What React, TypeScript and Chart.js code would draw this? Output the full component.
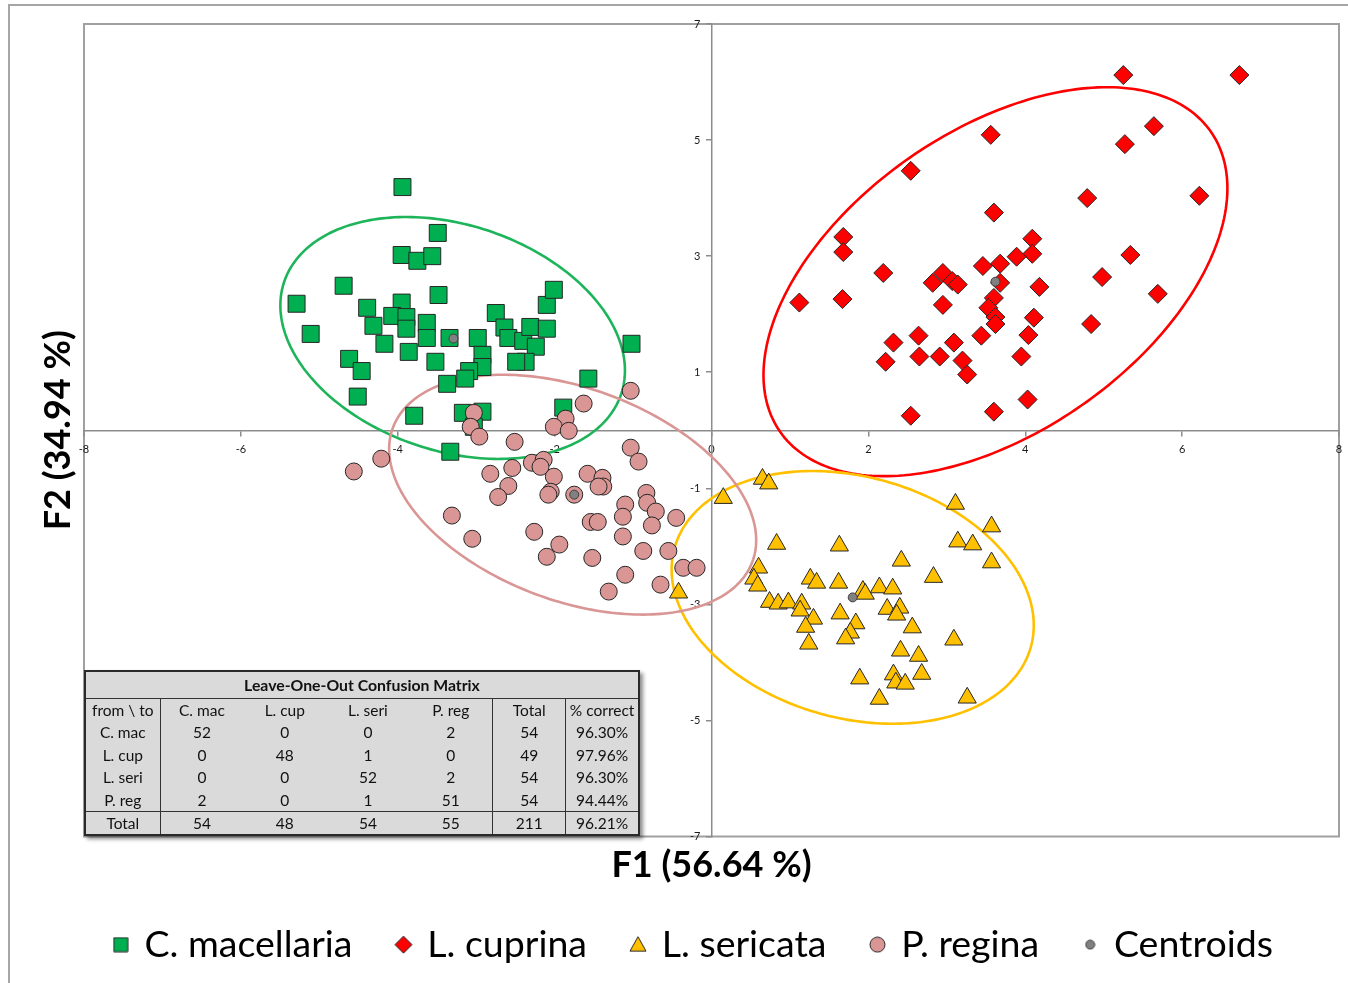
import React, { useEffect, useRef } from 'react';
import { Chart, registerables } from 'chart.js';

Chart.register(...registerables);

// ---------- data ----------
const seriesNames = ['C. macellaria', 'L. cuprina', 'L. sericata', 'P. regina', 'Centroids'];

const cMacellaria: [number, number][] = [
  [-3.94, 4.19], [-3.49, 3.40], [-3.95, 3.02], [-3.75, 2.92], [-3.56, 3.00], [-4.69, 2.49],
  [-3.48, 2.33], [-5.29, 2.18], [-4.39, 2.11], [-3.95, 2.20], [-4.07, 1.97], [-3.89, 1.95],
  [-3.89, 1.75], [-3.63, 1.85], [-3.63, 1.59], [-4.31, 1.80], [-5.11, 1.66], [-4.17, 1.49],
  [-3.86, 1.35], [-4.62, 1.23], [-4.46, 1.02], [-4.51, 0.58], [-3.34, 1.59], [-2.98, 1.59],
  [-2.75, 2.02], [-2.64, 1.77], [-2.59, 1.59], [-2.40, 1.54], [-2.31, 1.78], [-2.10, 1.75],
  [-2.24, 1.44], [-2.10, 2.16], [-2.01, 2.42], [-2.37, 1.18], [-2.49, 1.18], [-2.92, 1.30],
  [-2.92, 1.09], [-3.09, 1.02], [-3.14, 0.89], [-3.37, 0.80], [-3.52, 1.18], [-1.02, 1.49],
  [-1.57, 0.89], [-3.79, 0.25], [-3.17, 0.30], [-2.92, 0.32], [-1.89, 0.39], [-3.33, -0.37],
  [-3.03, 0.06],
];

const lCuprina: [number, number][] = [
  [5.25, 6.12], [6.73, 6.12], [5.64, 5.24], [5.27, 4.93], [3.56, 5.09], [2.54, 4.47],
  [4.79, 4.00], [6.22, 4.04], [3.60, 3.75], [1.68, 3.33], [1.68, 3.07], [4.09, 3.30],
  [4.09, 3.04], [3.89, 2.99], [3.68, 2.87], [3.46, 2.83], [5.34, 3.02], [2.19, 2.71],
  [2.95, 2.71], [2.82, 2.54], [3.07, 2.57], [3.14, 2.51], [3.68, 2.54], [4.98, 2.64],
  [4.18, 2.47], [1.12, 2.20], [1.67, 2.26], [2.95, 2.16], [3.60, 2.28], [3.53, 2.11],
  [3.62, 1.95], [3.62, 1.83], [4.11, 1.94], [5.69, 2.35], [4.84, 1.83], [4.04, 1.64],
  [2.64, 1.63], [2.32, 1.51], [3.09, 1.51], [3.44, 1.63], [2.22, 1.18], [2.65, 1.27],
  [2.91, 1.27], [3.20, 1.20], [3.26, 0.96], [3.95, 1.27], [4.03, 0.53], [3.60, 0.32],
  [2.54, 0.25],
];

const lSericata: [number, number][] = [
  [0.65, -0.84], [0.73, -0.92], [0.15, -1.17], [3.11, -1.27], [3.57, -1.66], [3.14, -1.92],
  [3.33, -1.97], [3.57, -2.28], [0.83, -1.96], [1.63, -1.99], [2.42, -2.25], [2.83, -2.53],
  [0.60, -2.37], [0.54, -2.56], [0.59, -2.68], [1.26, -2.56], [1.34, -2.63], [1.62, -2.63],
  [-0.42, -2.80], [1.93, -2.77], [1.96, -2.82], [2.14, -2.71], [2.31, -2.73], [0.74, -2.96],
  [0.85, -2.99], [0.98, -2.97], [1.15, -2.99], [1.13, -3.11], [1.30, -3.25], [1.20, -3.39],
  [1.64, -3.16], [1.84, -3.33], [1.77, -3.49], [1.71, -3.59], [1.24, -3.68], [2.24, -3.08],
  [2.40, -3.06], [2.36, -3.18], [2.56, -3.40], [2.41, -3.80], [2.64, -3.89], [2.68, -4.20],
  [3.09, -3.61], [1.89, -4.28], [2.32, -4.21], [2.35, -4.35], [2.47, -4.37], [2.14, -4.63],
  [3.26, -4.61],
];

const pRegina: [number, number][] = [
  [-1.03, 0.68], [-1.63, 0.46], [-3.03, 0.30], [-3.07, 0.06], [-2.96, -0.11], [-1.86, 0.20],
  [-2.01, 0.06], [-1.82, -0.01], [-2.51, -0.20], [-4.21, -0.49], [-4.56, -0.71], [-2.82, -0.75],
  [-2.54, -0.65], [-2.59, -0.96], [-2.72, -1.15], [-2.29, -0.56], [-2.14, -0.51], [-2.18, -0.63],
  [-2.01, -0.80], [-2.05, -1.06], [-2.08, -1.11], [-1.75, -1.11], [-1.58, -0.75], [-1.39, -0.82],
  [-1.38, -0.97], [-1.44, -0.97], [-1.03, -0.30], [-0.93, -0.54], [-0.83, -1.08], [-0.82, -1.25],
  [-0.71, -1.40], [-1.10, -1.28], [-1.13, -1.49], [-1.54, -1.58], [-1.45, -1.58], [-0.76, -1.64],
  [-0.45, -1.51], [-1.13, -1.83], [-0.87, -2.08], [-0.55, -2.08], [-2.26, -1.75], [-1.94, -1.97],
  [-2.10, -2.18], [-1.52, -2.20], [-1.10, -2.49], [-1.31, -2.78], [-0.65, -2.66], [-0.36, -2.37],
  [-0.19, -2.37], [-3.31, -1.47], [-3.05, -1.87],
];

const centroids: [number, number][] = [
  [-3.29, 1.58], [3.62, 2.56], [1.80, -2.88], [-1.75, -1.11],
];

// confidence ellipses: centre, first conjugate semi-axis, second conjugate semi-axis (data units)
const ellipseCMac = [[-3.30, 1.59], [2.15, -0.96], [-0.45, -1.85]];
const ellipseLCup = [[3.62, 2.56], [2.745, 2.587], [-1.10, 2.13]];
const ellipseLSer = [[1.80, -2.88], [2.27, -0.86], [-0.42, -2.00]];
const ellipsePReg = [[-1.77, -1.11], [2.29, -1.16], [-0.48, -1.71]];

const xTicks = [-8, -6, -4, -2, 0, 2, 4, 6, 8];
const yTicks = [-7, -5, -3, -1, 1, 3, 5, 7];
const xTitle = 'F1 (56.64 %)';
const yTitle = 'F2 (34.94 %)';

// confusion matrix
const tableTitle = 'Leave-One-Out Confusion Matrix';
const tableHeader = ['from \\ to', 'C. mac', 'L. cup', 'L. seri', 'P. reg', 'Total', '% correct'];
const tableRowLabels = ['C. mac', 'L. cup', 'L. seri', 'P. reg'];
const tableCounts = [
  [52, 0, 0, 2],
  [0, 48, 1, 0],
  [0, 0, 52, 2],
  [2, 0, 1, 51],
];
const tableRowTotals = [54, 49, 54, 54];
const tableCorrect = ['96.30%', '97.96%', '96.30%', '94.44%'];
const tableColTotals = [54, 48, 54, 55];
const tableGrandTotal = 211;
const tableOverall = '96.21%';

// ---------- styles ----------
const GREEN = '#00B050';
const RED = '#FF0000';
const GOLD = '#FFC000';
const PINK = '#D99694';
const GREY = '#808080';
const EDGE = '#262626';
const AXIS = '#8c8c8c';
const FONT = 'Lato, "Open Sans", sans-serif';

const ellipseList = [
  { geom: ellipseCMac, color: '#1DB45A' },
  { geom: ellipseLCup, color: '#FF0000' },
  { geom: ellipseLSer, color: '#FFC000' },
  { geom: ellipsePReg, color: '#D99694' },
];

const toXY = (arr: [number, number][]) => arr.map(([x, y]) => ({ x, y }));

// small canvases used as legend markers
function makeMarker(kind: string, size: number, fill: string, stroke: string) {
  const c = document.createElement('canvas');
  c.width = size + 2;
  c.height = size + 2;
  const g = c.getContext('2d') as CanvasRenderingContext2D;
  const m = (size + 2) / 2;
  const h = size / 2;
  g.beginPath();
  if (kind === 'rect') {
    g.rect(m - h, m - h, size, size);
  } else if (kind === 'diamond') {
    g.moveTo(m, m - h);
    g.lineTo(m + h, m);
    g.lineTo(m, m + h);
    g.lineTo(m - h, m);
    g.closePath();
  } else if (kind === 'triangle') {
    g.moveTo(m, m - h);
    g.lineTo(m + h, m + h * 0.8);
    g.lineTo(m - h, m + h * 0.8);
    g.closePath();
  } else {
    g.arc(m, m, h, 0, Math.PI * 2);
  }
  g.fillStyle = fill;
  g.fill();
  g.lineWidth = 1;
  g.strokeStyle = stroke;
  g.stroke();
  return c;
}

const ellipsePlugin = {
  id: 'ellipses',
  beforeDatasetsDraw(chart: any) {
    const { ctx } = chart;
    const xs = chart.scales.x;
    const ys = chart.scales.y;
    ctx.save();
    ellipseList.forEach((e) => {
      const [c, u, v] = e.geom;
      ctx.beginPath();
      const steps = 240;
      for (let i = 0; i <= steps; i++) {
        const t = (i / steps) * Math.PI * 2;
        const dx = c[0] + Math.cos(t) * u[0] + Math.sin(t) * v[0];
        const dy = c[1] + Math.cos(t) * u[1] + Math.sin(t) * v[1];
        const px = xs.getPixelForValue(dx);
        const py = ys.getPixelForValue(dy);
        if (i === 0) ctx.moveTo(px, py);
        else ctx.lineTo(px, py);
      }
      ctx.closePath();
      ctx.strokeStyle = e.color;
      ctx.lineWidth = 2.6;
      ctx.stroke();
    });
    ctx.restore();
  },
};

const framePlugin = {
  id: 'plotFrame',
  beforeDraw(chart: any) {
    const { ctx, chartArea: a } = chart;
    ctx.save();
    ctx.strokeStyle = '#a0a0a0';
    ctx.lineWidth = 2;
    ctx.strokeRect(a.left, a.top, a.right - a.left, a.bottom - a.top);
    ctx.restore();
  },
};

const cellBase: React.CSSProperties = {
  padding: 0,
  textAlign: 'center',
  height: 22.5,
  lineHeight: '22.5px',
  whiteSpace: 'nowrap',
};
const vLine = '1.5px solid #333';

function ConfusionTable() {
  const colW = [75, 83, 83, 83, 83, 73, 73];
  const leftBorder = (ci: number) => (ci === 1 || ci === 5 || ci === 6 ? vLine : 'none');
  const totalCell: React.CSSProperties = { ...cellBase, height: 22, lineHeight: '22px', borderTop: vLine };
  return (
    <table
      style={{
        position: 'absolute',
        left: 84,
        top: 670,
        width: 556,
        borderCollapse: 'collapse',
        background: '#DADADA',
        border: '2px solid #2a2a2a',
        boxShadow: '3px 3px 4px rgba(0,0,0,0.45)',
        fontFamily: FONT,
        fontSize: 15.5,
        color: '#111',
        tableLayout: 'fixed',
      }}
    >
      <colgroup>
        {colW.map((w, i) => (
          <col key={i} style={{ width: w }} />
        ))}
      </colgroup>
      <tbody>
        <tr>
          <td
            colSpan={7}
            style={{ ...cellBase, height: 26, lineHeight: '26px', fontWeight: 700, fontSize: 15.8, borderBottom: vLine }}
          >
            {tableTitle}
          </td>
        </tr>
        <tr>
          {tableHeader.map((h, ci) => (
            <td key={ci} style={{ ...cellBase, height: 22, lineHeight: '22px', borderLeft: leftBorder(ci) }}>
              {h}
            </td>
          ))}
        </tr>
        {tableRowLabels.map((lab, ri) => (
          <tr key={ri}>
            <td style={cellBase}>{lab}</td>
            {tableCounts[ri].map((v, ci) => (
              <td key={ci} style={{ ...cellBase, borderLeft: leftBorder(ci + 1) }}>
                {v}
              </td>
            ))}
            <td style={{ ...cellBase, borderLeft: vLine }}>{tableRowTotals[ri]}</td>
            <td style={{ ...cellBase, borderLeft: vLine }}>{tableCorrect[ri]}</td>
          </tr>
        ))}
        <tr>
          <td style={totalCell}>Total</td>
          {tableColTotals.map((v, ci) => (
            <td key={ci} style={{ ...totalCell, borderLeft: leftBorder(ci + 1) }}>
              {v}
            </td>
          ))}
          <td style={{ ...totalCell, borderLeft: vLine }}>{tableGrandTotal}</td>
          <td style={{ ...totalCell, borderLeft: vLine }}>{tableOverall}</td>
        </tr>
      </tbody>
    </table>
  );
}

export default function App() {
  const ref = useRef<HTMLCanvasElement | null>(null);

  useEffect(() => {
    if (!ref.current) return;
    Chart.defaults.color = '#000';
    const legendMarkers = [
      makeMarker('rect', 14, GREEN, EDGE),
      makeMarker('diamond', 17, RED, EDGE),
      makeMarker('triangle', 16, GOLD, EDGE),
      makeMarker('circle', 15, PINK, EDGE),
      makeMarker('circle', 9, GREY, '#404040'),
    ];
    const chart = new Chart(ref.current, {
      type: 'scatter',
      data: {
        datasets: [
          {
            label: seriesNames[0],
            data: toXY(cMacellaria),
            pointStyle: 'rect',
            pointRadius: 12,
            backgroundColor: GREEN,
            borderColor: EDGE,
            borderWidth: 1,
            order: 4,
          },
          {
            label: seriesNames[1],
            data: toXY(lCuprina),
            pointStyle: 'rectRot',
            pointRadius: 9.5,
            backgroundColor: RED,
            borderColor: EDGE,
            borderWidth: 1,
            order: 3,
          },
          {
            label: seriesNames[2],
            data: toXY(lSericata),
            pointStyle: 'triangle',
            pointRadius: 10.5,
            backgroundColor: GOLD,
            borderColor: EDGE,
            borderWidth: 1,
            order: 2,
          },
          {
            label: seriesNames[3],
            data: toXY(pRegina),
            pointStyle: 'circle',
            pointRadius: 8.5,
            backgroundColor: PINK,
            borderColor: EDGE,
            borderWidth: 1,
            order: 1,
          },
          {
            label: seriesNames[4],
            data: toXY(centroids),
            pointStyle: 'circle',
            pointRadius: 4.5,
            backgroundColor: GREY,
            borderColor: '#404040',
            borderWidth: 1,
            order: 0,
          },
        ],
      },
      options: {
        responsive: false,
        animation: false,
        events: [],
        layout: { autoPadding: false, padding: { left: 49.6, top: 24, right: 9, bottom: 9.6 } },
        plugins: {
          tooltip: { enabled: false },
          legend: {
            position: 'bottom',
            labels: {
              usePointStyle: true,
              boxWidth: 10,
              boxHeight: 14,
              padding: 46,
              color: '#000',
              font: { family: FONT, size: 37.5 },
              sort: (a: any, b: any) => a.datasetIndex - b.datasetIndex,
              generateLabels: (ch: any) => {
                const items = Chart.defaults.plugins.legend.labels.generateLabels(ch);
                return items.map((it: any) => ({ ...it, pointStyle: legendMarkers[it.datasetIndex] }));
              },
            },
          },
        },
        scales: {
          x: {
            type: 'linear',
            position: { y: 0 } as any,
            min: -8,
            max: 8,
            afterBuildTicks: (s: any) => {
              s.ticks = xTicks.map((v) => ({ value: v }));
            },
            afterFit: (s: any) => {
              s.height = 0;
              s.paddingLeft = 0;
              s.paddingRight = 0;
            },
            grid: { display: true, drawOnChartArea: false, drawTicks: true, tickLength: 5, color: AXIS, lineWidth: 1.5 },
            border: { display: true, color: AXIS, width: 1.5 },
            ticks: {
              autoSkip: false,
              maxRotation: 0,
              padding: 8,
              color: '#1a1a1a',
              font: { family: FONT, size: 11 },
            },
          },
          y: {
            type: 'linear',
            position: { x: 0 } as any,
            min: -7,
            max: 7,
            afterBuildTicks: (s: any) => {
              s.ticks = yTicks.map((v) => ({ value: v }));
            },
            afterFit: (s: any) => {
              s.width = 0;
              s.paddingTop = 0;
              s.paddingBottom = 0;
            },
            grid: { display: true, drawOnChartArea: false, drawTicks: true, tickLength: 5, color: AXIS, lineWidth: 1.5 },
            border: { display: true, color: AXIS, width: 1.5 },
            ticks: {
              autoSkip: false,
              padding: 8,
              color: '#1a1a1a',
              font: { family: FONT, size: 11 },
              callback: (v: any) => `${v}\u2002\u2002`,
            },
          },
          xTitle: {
            type: 'linear',
            axis: 'x',
            position: 'bottom',
            min: -8,
            max: 8,
            display: true,
            grid: { display: false, drawTicks: false },
            border: { display: false },
            ticks: { display: false },
            title: {
              display: true,
              text: xTitle,
              color: '#000',
              font: { family: FONT, size: 36, weight: 'bold', lineHeight: 0.8 },
              padding: { top: 14.6, bottom: 0 },
            },
          },
          yTitle: {
            type: 'linear',
            axis: 'y',
            position: 'left',
            min: -7,
            max: 7,
            display: true,
            grid: { display: false, drawTicks: false },
            border: { display: false },
            ticks: { display: false },
            title: {
              display: true,
              text: yTitle,
              color: '#000',
              font: { family: FONT, size: 36, weight: 'bold', lineHeight: 1.2 },
              padding: { top: -13.2, bottom: 4.4 },
            },
          },
        } as any,
      },
      plugins: [ellipsePlugin, framePlugin],
    });
    return () => chart.destroy();
  }, []);

  return (
    <div style={{ position: 'absolute', left: 0, top: 0, width: 1348, height: 983, overflow: 'hidden', background: '#fff' }}>
      <div
        style={{
          position: 'absolute',
          left: 8,
          top: 4,
          width: 1345,
          height: 985,
          borderLeft: '2px solid #a6a6a6',
          borderTop: '2px solid #a6a6a6',
        }}
      />
      <canvas ref={ref} width={1348} height={983} style={{ position: 'absolute', left: 0, top: 0 }} />
      <ConfusionTable />
    </div>
  );
}
